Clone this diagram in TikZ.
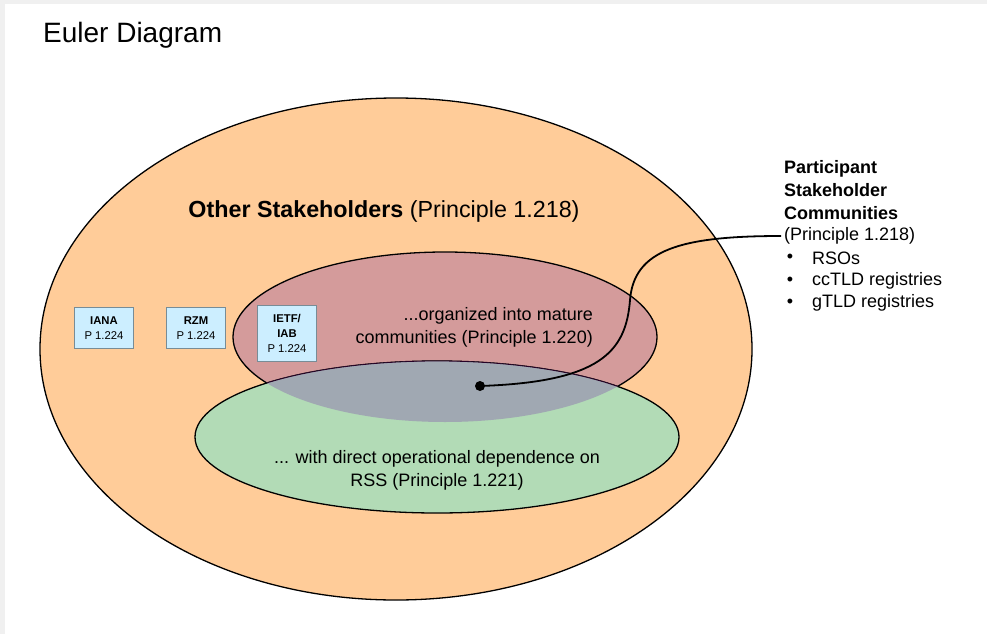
\documentclass[tikz,border=0pt]{standalone}
\usepackage{fontspec}
\setmainfont{Liberation Sans}
\usepackage{tikz}
\usetikzlibrary{positioning}
\definecolor{col_outer}{RGB}{255,204,153}
\definecolor{col_mature}{RGB}{212,155,155}
\definecolor{col_direct}{RGB}{178,219,182}
\definecolor{col_both}{RGB}{160,168,178}
\definecolor{col_box}{RGB}{204,238,255}
\definecolor{col_boxline}{RGB}{120,140,150}
\tikzstyle{node_box} = [rectangle, draw=col_boxline, fill=col_box, line width=0.8pt, minimum width=59pt, minimum height=41pt, inner sep=0pt, align=center, font=\fontsize{11.3}{15}\selectfont]
\tikzstyle{node_text} = [inner sep=0pt, font=\fontsize{18}{23}\selectfont]
\tikzstyle{set_line} = [draw=black, line width=1.3pt]
\tikzstyle{edge_link} = [line width=1.8pt]

\begin{document}
\begin{tikzpicture}[x=1pt,y=-1pt]
			\useasboundingbox (0,0) rectangle (987,634);
			\fill[black!6] (0,0) rectangle (987,634);
			\fill[white] (5,4) rectangle (987,634);
			
			\node (title) at (43,35) [anchor=west, inner sep=0pt, font=\fontsize{28}{30}\selectfont] {Euler Diagram};
			
			% the sets
			\fill[col_outer] (396,349) ellipse [x radius=356pt, y radius=251pt];
			\draw[set_line] (396,349) ellipse [x radius=356pt, y radius=251pt];
			\fill[col_mature] (445,337) ellipse [x radius=212pt, y radius=85pt];
			\draw[set_line] (445,337) ellipse [x radius=212pt, y radius=85pt];
			\fill[col_direct] (437,437) ellipse [x radius=242pt, y radius=76pt];
			\draw[set_line] (437,437) ellipse [x radius=242pt, y radius=76pt];
			\begin{scope}
				\clip (445,337) ellipse [x radius=212pt, y radius=85pt];
				\fill[col_both] (437,437) ellipse [x radius=242pt, y radius=76pt];
				\draw[line width=0.8pt, black!70!violet] (437,437) ellipse [x radius=242pt, y radius=76pt];
			\end{scope}
			
			% labels
			\node (other) at (384,211) [node_text, font=\fontsize{23.3}{26}\selectfont] {\textbf{Other Stakeholders} (Principle 1.218)};
			\node (mature) at (593,327) [node_text, anchor=east, align=right] {...organized into mature\\communities (Principle 1.220)};
			\node (direct) at (437,470) [node_text, align=center] {... with direct operational dependence on\\RSS (Principle 1.221)};
			
			\node (IANA) at (104,328) [node_box] {\textbf{IANA}\\P 1.224};
			\node (RZM) at (196,328) [node_box] {\textbf{RZM}\\P 1.224};
			\node (IETF) at (287,333) [node_box, minimum height=56pt] {\textbf{IETF/}\\\textbf{IAB}\\P 1.224};
			
			% participant communities
			\node (part_head) at (784,190) [node_text, anchor=west, align=left] {\textbf{Participant}\\\textbf{Stakeholder}\\\textbf{Communities}};
			\node (part_ref) at (784,236) [node_text, anchor=west, inner sep=3pt, xshift=-3pt] {(Principle 1.218)};
			\node (rso) at (812,258) [node_text, anchor=west] {RSOs};
			\node (cctld) at (812,281) [node_text, anchor=west] {ccTLD registries};
			\node (gtld) at (812,303) [node_text, anchor=west] {gTLD registries};
			\foreach \item in {rso,cctld,gtld}
				\node at ([xshift=-22pt]\item.west) [node_text] {\textbullet};
			
			\node (dot) at (480,386) [circle, fill=black, inner sep=0pt, minimum size=10pt] {};
			\draw[edge_link] (dot.center) .. controls (600,382) and (626,352) .. (630,300)
				.. controls (634,250) and (680,236) .. (part_ref.west);
		\end{tikzpicture}
\end{document}
